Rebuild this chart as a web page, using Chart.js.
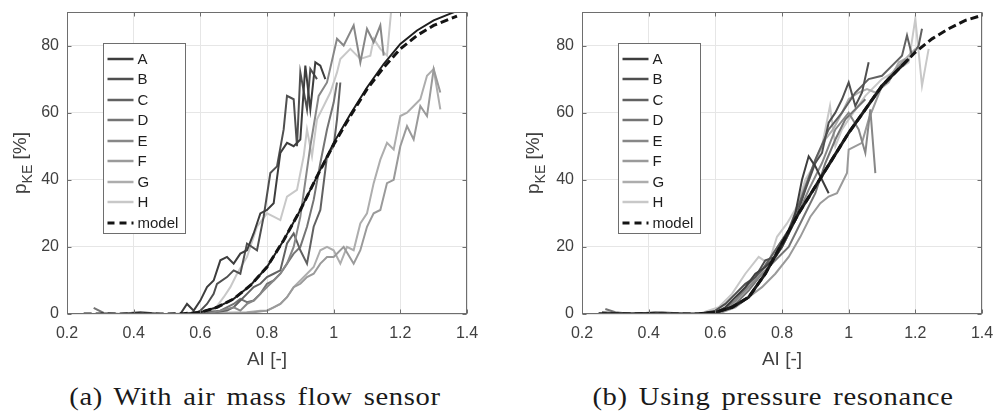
<!DOCTYPE html>
<html lang="en">
<head>
<meta charset="UTF-8" />
<title>p_KE over AI</title>
<script src="https://cdn.jsdelivr.net/npm/chart.js"></script>
<style>
  body { margin: 0; width: 994px; height: 412px; background: #fff; position: relative; overflow: hidden; }
  canvas { position: absolute; top: 0; }
  .caption { position: absolute; top: 384px; width: 500px; text-align: center; font-family: "Liberation Serif", "DejaVu Serif", serif; font-size: 26px; line-height: 26px; letter-spacing: 0.6px; word-spacing: 3px; color: #1a1a1a; white-space: nowrap; transform: scaleX(1.1); transform-origin: center; }
</style>
</head>
<body>
<canvas id="chartA" width="497" height="372" style="left:0"></canvas>
<canvas id="chartB" width="497" height="372" style="left:497px"></canvas>
<div class="caption" style="left:5px">(a) With air mass flow sensor</div>
<div class="caption" style="left:523px">(b) Using pressure resonance</div>

<script>
// axis ticks
const xTicks = [0.2, 0.4, 0.6, 0.8, 1, 1.2, 1.4];
const yTicks = [0, 20, 40, 60, 80];

const seriesNames = ["A", "B", "C", "D", "E", "F", "G", "H"];
const seriesColors = ["#3d3d3d", "#4f4f4f", "#616161", "#747474", "#878787", "#9a9a9a", "#adadad", "#c8c8c8"];

// (a) with air mass flow sensor
const aAx = [0.30, 0.36, 0.42, 0.48, 0.54, 0.56, 0.58, 0.60, 0.62, 0.64, 0.66, 0.68, 0.70, 0.72, 0.74, 0.76, 0.78, 0.80, 0.82, 0.84, 0.86, 0.88, 0.90, 0.915, 0.93, 0.945, 0.96, 0.975];
const aAy = [0, 0, 0.3, 0, 0, 3, 1, 4, 8, 10, 16, 17, 15, 18, 19, 24, 30, 31, 33, 48, 51, 50, 52, 74, 61, 75, 74, 70];
const aBx = [0.30, 0.40, 0.50, 0.58, 0.60, 0.62, 0.64, 0.65, 0.68, 0.70, 0.72, 0.74, 0.77, 0.79, 0.81, 0.83, 0.85, 0.86, 0.88, 0.89, 0.90, 0.92, 0.93, 0.95];
const aBy = [0, 0, 0, 0, 1, 3, 6, 9, 11, 13, 12, 21, 19, 29, 42, 44, 55, 65, 64, 50, 72, 61, 73, 70];
const aCx = [0.30, 0.45, 0.60, 0.64, 0.68, 0.70, 0.72, 0.74, 0.76, 0.78, 0.80, 0.82, 0.84, 0.86, 0.88, 0.90, 0.92, 0.94, 0.96, 0.98, 1.00, 1.01, 1.02];
const aCy = [0, 0, 0, 0.5, 1, 2, 4, 6, 8, 9, 11, 12, 13, 21, 24, 19, 15, 26, 31, 47, 50, 58, 69];
const aDx = [0.28, 0.31, 0.36, 0.42, 0.48, 0.56, 0.62, 0.66, 0.70, 0.72, 0.74, 0.76, 0.78, 0.80, 0.82, 0.84, 0.86, 0.88, 0.90, 0.92, 0.94, 0.96, 0.98, 1.00, 1.01];
const aDy = [1.8, 0.3, 0, 0.6, 0, 0, 0.5, 1, 3, 4.5, 3.5, 4, 6, 9, 10, 12, 15, 18, 20, 26, 34, 45, 55, 63, 69];
const aEx = [0.30, 0.45, 0.62, 0.66, 0.70, 0.72, 0.74, 0.76, 0.78, 0.80, 0.82, 0.84, 0.86, 0.88, 0.90, 0.93, 0.955, 0.98, 1.01, 1.03, 1.06, 1.08, 1.10, 1.12, 1.14, 1.15];
const aEy = [0, 0, 0, 1, 2, 1, 3, 4, 6, 8, 10, 12, 15, 20, 29, 50, 65, 69, 82, 80, 86, 75, 85, 81, 86, 77];
const aFx = [0.30, 0.50, 0.70, 0.76, 0.80, 0.82, 0.84, 0.86, 0.88, 0.90, 0.92, 0.94, 0.96, 0.98, 1.00, 1.03, 1.06, 1.08, 1.10, 1.12, 1.14, 1.16, 1.18, 1.20, 1.22, 1.24, 1.26, 1.28, 1.30, 1.32];
const aFy = [0, 0, 0, 0.5, 1, 2, 3, 5, 8, 9, 11, 12, 15, 17, 17, 20, 15, 19, 26, 30, 31, 39, 40, 50, 56, 52, 62, 59, 73, 66];
const aGx = [0.30, 0.50, 0.74, 0.78, 0.80, 0.82, 0.84, 0.86, 0.88, 0.90, 0.92, 0.94, 0.96, 0.98, 1.00, 1.02, 1.04, 1.06, 1.08, 1.10, 1.12, 1.14, 1.16, 1.18, 1.20, 1.22, 1.24, 1.26, 1.28, 1.30, 1.32];
const aGy = [0, 0, 0.5, 1, 1, 2, 3, 5, 8, 10, 12, 14, 19, 20, 19, 15, 20, 19, 27, 30, 39, 46, 51, 49, 59, 60, 62, 64, 71, 73, 61];
const aHx = [0.30, 0.50, 0.60, 0.64, 0.67, 0.69, 0.71, 0.74, 0.77, 0.80, 0.82, 0.84, 0.86, 0.89, 0.91, 0.92, 0.935, 0.95, 0.97, 0.99, 1.01, 1.02, 1.05, 1.08, 1.11, 1.12, 1.14, 1.16, 1.175];
const aHy = [0, 0, 0, 1, 5, 8, 12, 17, 26, 30, 29, 28, 35, 37, 47, 55, 47, 58, 62, 66, 72, 76, 79, 76, 77, 82, 79, 77, 93];
const aModelX = [0.25, 0.30, 0.35, 0.40, 0.45, 0.50, 0.55, 0.60, 0.65, 0.70, 0.75, 0.80, 0.85, 0.90, 0.95, 1.00, 1.05, 1.10, 1.15, 1.20, 1.25, 1.30, 1.35, 1.37];
const aModelY = [0, 0, 0, 0, 0, 0, 0.1, 0.5, 2, 4.5, 8.5, 14, 22, 31, 41, 50.5, 59, 67, 73.5, 79, 83, 86, 88, 88.8];
const aFitX = [0.55, 0.60, 0.65, 0.70, 0.75, 0.80, 0.85, 0.90, 0.95, 1.00, 1.05, 1.10, 1.15, 1.20, 1.25, 1.30, 1.35, 1.37];
const aFitY = [0.1, 0.5, 2, 4.5, 8.5, 14, 22, 31, 41, 51, 59.5, 67.5, 74.5, 80.5, 84.5, 87.5, 89.5, 90.3];

// (b) using pressure resonance
const bAx = [0.25, 0.32, 0.40, 0.48, 0.56, 0.60, 0.63, 0.66, 0.69, 0.72, 0.75, 0.78, 0.80, 0.82, 0.84, 0.86, 0.88, 0.90, 0.92, 0.94];
const bAy = [0, 0, 0.3, 0, 0, 0.5, 2, 5, 8, 12, 14, 17, 20, 24, 30, 40, 47, 44, 40, 36];
const bBx = [0.26, 0.35, 0.45, 0.55, 0.60, 0.63, 0.66, 0.69, 0.72, 0.75, 0.78, 0.81, 0.84, 0.87, 0.90, 0.92, 0.94, 0.96, 0.98, 1.00, 1.02, 1.04, 1.06];
const bBy = [0.5, 0, 0, 0, 1, 3, 6, 9, 11, 16, 17, 22, 28, 37, 45, 48, 57, 60, 64, 69, 62, 66, 75];
const bCx = [0.25, 0.35, 0.45, 0.55, 0.62, 0.66, 0.70, 0.74, 0.78, 0.82, 0.86, 0.90, 0.94, 0.98, 1.02, 1.06, 1.10, 1.14, 1.16, 1.175, 1.19, 1.21, 1.22];
const bCy = [0, 0, 0, 0, 1, 4, 9, 13, 19, 25, 35, 46, 55, 60, 66, 70, 71, 75, 77, 83, 77, 80, 85];
const bDx = [0.27, 0.30, 0.35, 0.42, 0.50, 0.58, 0.62, 0.66, 0.70, 0.74, 0.78, 0.82, 0.86, 0.90, 0.93, 0.96, 0.99, 1.02, 1.05];
const bDy = [1.5, 0.5, 0, 0.5, 0, 0, 1, 3, 7, 12, 16, 20, 28, 36, 45, 52, 58, 61, 64];
const bEx = [0.28, 0.36, 0.44, 0.52, 0.60, 0.64, 0.68, 0.72, 0.76, 0.80, 0.84, 0.88, 0.92, 0.96, 1.00, 1.03, 1.05, 1.065, 1.08];
const bEy = [0, 0, 0.5, 0, 0, 2, 6, 10, 14, 20, 28, 37, 45, 55, 60, 55, 48, 61, 42];
const bFx = [0.27, 0.35, 0.45, 0.55, 0.62, 0.66, 0.70, 0.74, 0.78, 0.82, 0.855, 0.885, 0.915, 0.94, 0.965, 0.995, 1.00, 1.04, 1.06, 1.10, 1.14, 1.17];
const bFy = [0, 0, 0, 0, 0.5, 2, 5, 8, 12, 17, 23, 29, 33, 35, 36, 42, 49, 51, 58, 68, 73, 76];
const bGx = [0.26, 0.34, 0.44, 0.54, 0.62, 0.66, 0.70, 0.74, 0.78, 0.82, 0.86, 0.905, 0.93, 0.953, 0.98, 1.00, 1.03, 1.055, 1.08, 1.12, 1.15, 1.17, 1.20];
const bGy = [0, 0, 0, 0, 1, 4, 8, 13, 19, 25, 36, 47, 52, 55, 60, 64, 66, 67, 66, 69, 75, 76, 79];
const bHx = [0.25, 0.35, 0.45, 0.55, 0.61, 0.65, 0.69, 0.73, 0.76, 0.785, 0.815, 0.845, 0.87, 0.90, 0.92, 0.944, 0.96, 0.98, 1.00, 1.05, 1.10, 1.15, 1.18, 1.20, 1.22, 1.24];
const bHy = [0, 0, 0, 0, 2, 6, 12, 17, 15, 23, 27, 32, 40, 45, 50, 62, 50, 55, 58, 65, 70, 73, 75, 88, 68, 79];
const bModelX = [0.25, 0.30, 0.35, 0.40, 0.45, 0.50, 0.55, 0.60, 0.65, 0.70, 0.75, 0.80, 0.85, 0.90, 0.95, 1.00, 1.05, 1.10, 1.15, 1.20, 1.25, 1.30, 1.35, 1.40];
const bModelY = [0, 0, 0, 0, 0, 0, 0, 0.5, 2, 5, 12, 21, 30, 38, 46, 54, 61, 68, 73, 78, 82, 85, 87.5, 89];
const bFitX = [0.25, 0.30, 0.35, 0.40, 0.45, 0.50, 0.55, 0.60, 0.65, 0.70, 0.75, 0.80, 0.85, 0.90, 0.95, 1.00, 1.05, 1.10, 1.15, 1.18];
const bFitY = [0, 0, 0, 0, 0, 0, 0, 0.5, 2, 5, 12, 21, 30, 38, 46, 54, 61, 68, 73, 76];

const boxColor = "#6e6e6e";
const textColor = "#404040";
const fontFamily = '"Liberation Sans", Arial, sans-serif';
Chart.defaults.font.family = fontFamily;

const pts = (xs, ys) => xs.map((x, i) => ({ x, y: ys[i] }));

function buildDatasets(xs, ys, modelX, modelY, fitX, fitY, fitWidth) {
    const sets = seriesNames.map((name, i) => ({
        label: name,
        data: pts(xs[i], ys[i]),
        borderColor: seriesColors[i],
        borderWidth: 2,
        order: 2 + (i % 4)
    }));
    sets.push({
        label: "model",
        data: pts(modelX, modelY),
        borderColor: "#141414",
        borderWidth: 3,
        borderDash: [8, 4],
        order: 0
    });
    sets.push({
        label: "fit",
        inLegend: false,
        data: pts(fitX, fitY),
        borderColor: "#1e1e1e",
        borderWidth: fitWidth,
        order: 1
    });
    return sets;
}

// box, inward ticks, legend and y title
const decorPlugin = {
    id: "decor",
    afterDraw(chart, args, opts) {
        const { ctx, chartArea: a, scales: { x, y } } = chart;
        const L = Math.round(a.left) + 0.5, R = Math.round(a.right) - 0.5;
        const T = Math.round(a.top) + 0.5, B = Math.round(a.bottom) - 0.5;
        ctx.save();
        ctx.strokeStyle = boxColor;
        ctx.lineWidth = 1;
        ctx.setLineDash([]);
        ctx.strokeRect(L, T, R - L, B - T);
        ctx.beginPath();
        xTicks.forEach(v => {
            const px = Math.round(x.getPixelForValue(v)) + 0.5;
            ctx.moveTo(px, B); ctx.lineTo(px, B - 4);
            ctx.moveTo(px, T); ctx.lineTo(px, T + 4);
        });
        yTicks.forEach(v => {
            const py = Math.round(y.getPixelForValue(v)) + 0.5;
            ctx.moveTo(L, py); ctx.lineTo(L + 4, py);
            ctx.moveTo(R, py); ctx.lineTo(R - 4, py);
        });
        ctx.stroke();

        // legend
        const items = chart.data.datasets.filter(d => d.inLegend !== false);
        const bx = Math.round(a.left + 36) + 0.5, by = Math.round(a.top + 31) + 0.5;
        ctx.fillStyle = "#fff";
        ctx.fillRect(bx, by, 82, 190);
        ctx.strokeStyle = boxColor;
        ctx.strokeRect(bx, by, 82, 190);
        ctx.font = "15px " + fontFamily;
        ctx.textBaseline = "middle";
        ctx.textAlign = "left";
        items.forEach((d, i) => {
            const yy = Math.round(by + 15 + i * 20.5);
            ctx.strokeStyle = d.borderColor;
            ctx.lineWidth = d.borderDash ? 3 : 2.5;
            ctx.setLineDash(d.borderDash ? [7, 5] : []);
            ctx.beginPath();
            ctx.moveTo(bx + 4, yy); ctx.lineTo(bx + 30, yy);
            ctx.stroke();
            ctx.fillStyle = "#1e1e1e";
            ctx.fillText(d.label, bx + 34, yy + 1);
        });
        ctx.setLineDash([]);

        // y title: p_KE [%]
        ctx.translate(opts.titleX, 163);
        ctx.rotate(-Math.PI / 2);
        ctx.fillStyle = textColor;
        const big = "19px " + fontFamily, small = "14px " + fontFamily;
        ctx.font = big; const w1 = ctx.measureText("p").width, w3 = ctx.measureText(" [%]").width;
        ctx.font = small; const w2 = ctx.measureText("KE").width;
        let sx = -(w1 + w2 + w3) / 2;
        ctx.textBaseline = "alphabetic";
        ctx.font = big; ctx.fillText("p", sx, 0); sx += w1;
        ctx.font = small; ctx.fillText("KE", sx, 6); sx += w2;
        ctx.font = big; ctx.fillText(" [%]", sx, 0);
        ctx.restore();
    }
};

function makeChart(id, datasets, axisWidth, padRight, titleX) {
    return new Chart(document.getElementById(id), {
        type: "line",
        data: { datasets },
        options: {
            responsive: false,
            animation: false,
            layout: { padding: { left: 0, right: padRight, top: 12, bottom: 0 } },
            elements: { point: { radius: 0 }, line: { tension: 0 } },
            plugins: { legend: { display: false }, tooltip: { enabled: false }, decor: { titleX } },
            scales: {
                x: {
                    type: "linear", min: 0.2, max: 1.4,
                    afterBuildTicks: s => { s.ticks = xTicks.map(v => ({ value: v })); },
                    afterFit: s => { s.height = 58; s.paddingLeft = 0; s.paddingRight = 0; },
                    grid: { color: "#e6e6e6", drawTicks: false },
                    border: { display: false },
                    ticks: { padding: 10, color: textColor, font: { size: 16 }, maxRotation: 0, autoSkip: false, callback: v => String(v) },
                    title: { display: true, text: "AI [-]", color: textColor, font: { size: 19 }, padding: { top: 0, bottom: 1 } }
                },
                y: {
                    type: "linear", min: 0, max: 90,
                    afterBuildTicks: s => { s.ticks = yTicks.map(v => ({ value: v })); },
                    afterFit: s => { s.width = axisWidth; s.paddingTop = 0; s.paddingBottom = 0; },
                    grid: { color: "#e6e6e6", drawTicks: false },
                    border: { display: false },
                    ticks: { padding: 8, color: textColor, font: { size: 16 }, callback: v => String(v) }
                }
            }
        },
        plugins: [decorPlugin]
    });
}

makeChart("chartA",
    buildDatasets([aAx, aBx, aCx, aDx, aEx, aFx, aGx, aHx], [aAy, aBy, aCy, aDy, aEy, aFy, aGy, aHy], aModelX, aModelY, aFitX, aFitY, 2),
    67, 30, 26);
makeChart("chartB",
    buildDatasets([bAx, bBx, bCx, bDx, bEx, bFx, bGx, bHx], [bAy, bBy, bCy, bDy, bEy, bFy, bGy, bHy], bModelX, bModelY, bFitX, bFitY, 3),
    85, 12, 42);
</script>
</body>
</html>
